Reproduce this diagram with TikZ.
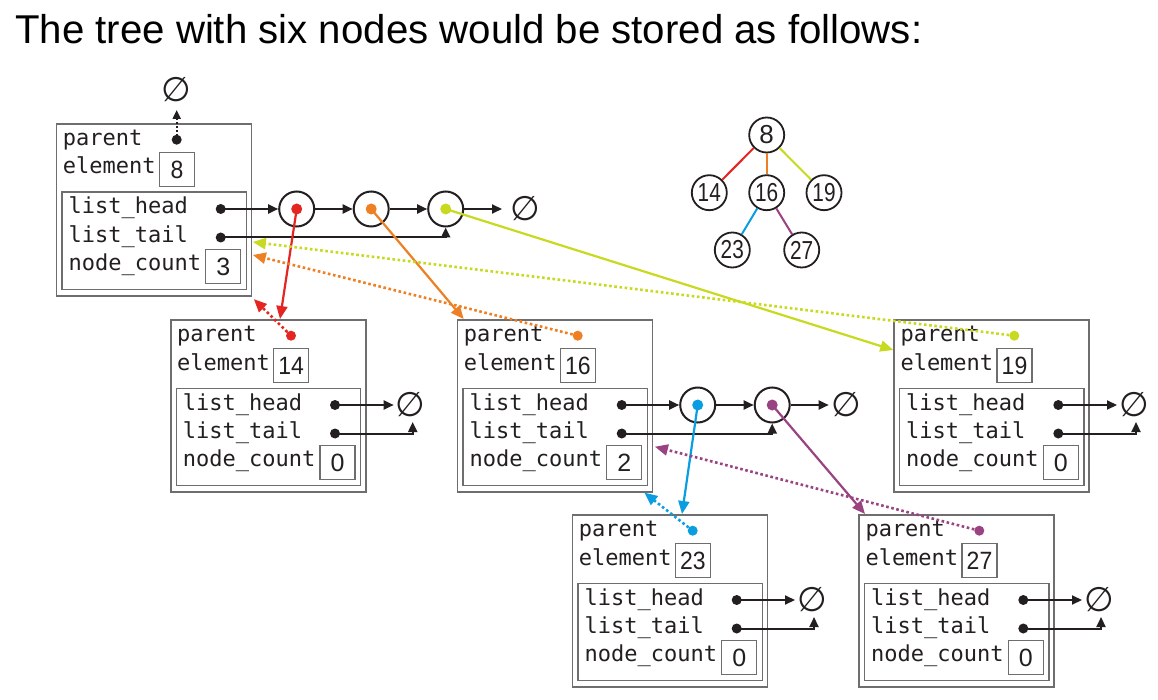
\documentclass[tikz,border=0pt]{standalone}
\usepackage{fontspec}
\usepackage{graphicx}
\setmainfont{Liberation Sans}
\newfontfamily\monof{DejaVu Sans Mono}
\newfontfamily\symf{DejaVu Sans}
\usetikzlibrary{arrows.meta,calc}
\definecolor{cred}{HTML}{E42521}
\definecolor{corange}{HTML}{EE7F22}
\definecolor{clime}{HTML}{C8DA1F}
\definecolor{cblue}{HTML}{0A9EE0}
\definecolor{cpurple}{HTML}{9A4383}
\definecolor{boxgray}{HTML}{6E6E6E}
\definecolor{ink}{HTML}{231F20}
\tikzset{
 outerbox/.style={draw=boxgray, line width=1.6pt, minimum width=195pt, minimum height=172pt, anchor=north west, inner sep=0pt},
 innerbox/.style={draw=boxgray, line width=1.4pt, minimum width=184.5pt, minimum height=97.5pt, anchor=north west, inner sep=0pt},
 numbox/.style={draw=boxgray, line width=1.4pt, minimum width=35pt, minimum height=34pt, anchor=north west, inner sep=0pt, text=ink, font=\fontsize{25}{25}\selectfont},
 lbl/.style={anchor=base west, inner sep=0pt, text=ink, font=\monof\fontsize{22}{22}\selectfont},
 nullsym/.style={inner sep=0pt, text=ink, font=\symf\fontsize{34}{34}\selectfont},
 lnode/.style={circle, draw=ink, line width=2pt, minimum size=35pt, inner sep=0pt},
 tnode/.style={circle, draw=ink, line width=1.8pt, minimum size=35pt, inner sep=0pt, text=ink, font=\fontsize{26}{26}\selectfont},
 arr/.style={draw=ink, line width=2pt, -{Triangle[length=10pt,width=9pt]}},
 carr/.style={line width=2.2pt, -{Triangle[length=13pt,width=11pt]}},
 darr/.style={line width=2.6pt, dash pattern=on 2.6pt off 2.6pt, -{Triangle[length=13pt,width=11pt]}},
 blkdot/.style={line width=2pt, dash pattern=on 2pt off 2pt, draw=ink, -{Triangle[length=9pt,width=8pt]}},
}
\newcommand\mkstruct[5]{%
 \begin{scope}[shift={(#2,#3)}]
  \node[outerbox] (#1) at (0,0) {};
  \node[innerbox] (#1-in) at (5.5,68.5) {};
  \node[lbl] (#1-lp) at (7,22.7) {parent};
  \node[lbl] (#1-le) at (7,51) {element};
  \node[numbox] (#1-el) at (103,28.7) {\scalebox{0.92}[1]{#4}};
  \node[lbl] (#1-lh) at (12.7,91) {list\_head};
  \node[lbl] (#1-lt) at (12.7,119.3) {list\_tail};
  \node[lbl] (#1-lc) at (12.7,147.7) {node\_count};
  \node[numbox] (#1-nc) at (149.3,126) {#5};
  \coordinate (#1-p) at (121,16.7);
  \coordinate (#1-h) at (165,86);
  \coordinate (#1-t) at (165,114.5);
 \end{scope}}
\newcommand\mkempty[3]{% name, null x, null y
  \node[nullsym] (#1-null) at (#2,#3) {∅};
  \draw[arr] (#1-h) -- ($(#1-null.center)+(-17,0)$);
  \draw[arr] (#1-t) -| ($(#1-null.center)+(2,17)$);
}
\begin{document}
\begin{tikzpicture}[x=1pt,y=-1pt]
\fill[white] (0,0) rectangle (1158,700);
\useasboundingbox (0,0) rectangle (1158,700);

\node[anchor=base west, inner sep=0pt, font=\fontsize{40.2}{42}\selectfont] (title) at (15,43.3) {The tree with six nodes would be stored as follows:};

% tree
\node[tnode] (t8) at (766.7,135) {8};
\node[tnode] (t14) at (709.3,192.7) {\scalebox{0.8}[1]{14}};
\node[tnode] (t16) at (766.7,192.7) {\scalebox{0.8}[1]{16}};
\node[tnode] (t19) at (824,192.7) {\scalebox{0.8}[1]{19}};
\node[tnode] (t23) at (732.3,250) {\scalebox{0.8}[1]{23}};
\node[tnode] (t27) at (801.7,250) {\scalebox{0.8}[1]{27}};
\draw[cred, line width=2pt] (t8) -- (t14);
\draw[corange, line width=2pt] (t8) -- (t16);
\draw[clime, line width=2pt] (t8) -- (t19);
\draw[cblue, line width=2pt] (t16) -- (t23);
\draw[cpurple, line width=2pt] (t16) -- (t27);

% structures
\mkstruct{root}{55.7}{123}{8}{3}
\mkstruct{b14}{170}{319}{14}{0}
\mkstruct{b16}{456.7}{319}{16}{2}
\mkstruct{b19}{893.3}{319}{19}{0}
\mkstruct{b23}{571.7}{514}{23}{0}
\mkstruct{b27}{858.3}{514}{27}{0}

% root parent -> null
\node[nullsym] (rootnull0) at (176.7,90) {∅};
\draw[blkdot] (root-p) -- ($(rootnull0.center)+(0,20)$);

% root list
\node[lnode] (rc1) at (296.7,209) {};
\node[lnode] (rc2) at (371.2,209) {};
\node[lnode] (rc3) at (445.7,209) {};
\node[nullsym] (rootnull) at (525,209) {∅};
\draw[arr] (root-h) -- (rc1);
\draw[arr] (rc1) -- (rc2);
\draw[arr] (rc2) -- (rc3);
\draw[arr] (rc3) -- ($(rootnull.center)+(-23,0)$);
\draw[arr] (root-t) -| (rc3.south);

% b16 list
\node[lnode] (mc1) at (697.7,405) {};
\node[lnode] (mc2) at (772.2,405) {};
\node[nullsym] (b16-null) at (846.7,405) {∅};
\draw[arr] (b16-h) -- (mc1);
\draw[arr] (mc1) -- (mc2);
\draw[arr] (mc2) -- ($(b16-null.center)+(-18,0)$);
\draw[arr] (b16-t) -| (mc2.south);

% empty lists
\mkempty{b14}{410.7}{405}
\mkempty{b19}{1134}{405}
\mkempty{b23}{812}{600}
\mkempty{b27}{1099}{600}

% child pointers
\draw[carr, cred] (rc1.center) -- ($(b14.north west)+(110,0)$);
\draw[carr, corange] (rc2.center) -- ($(b16.north west)+(7,0)$);
\draw[carr, clime] (rc3.center) -- ($(b19.north west)+(0,31)$);
\draw[carr, cblue] (mc1.center) -- ($(b23.north west)+(110.3,0)$);
\draw[carr, cpurple] (mc2.center) -- ($(b27.north west)+(6.7,0)$);

% parent pointers
\draw[darr, cred] (b14-p) -- ($(root.south east)+(1.5,2.5)$);
\draw[darr, corange] (b16-p) -- ($(root.north east)+(0.5,132)$);
\draw[darr, clime] (b19-p) -- ($(root.north east)+(0.5,119)$);
\draw[darr, cblue] (b23-p) -- ($(b16.south east)+(-9,0)$);
\draw[darr, cpurple] (b27-p) -- ($(b16.north east)+(1.6,127.7)$);

% dots
\foreach \n in {root-h,root-t,b14-h,b14-t,b16-h,b16-t,b19-h,b19-t,b23-h,b23-t,b27-h,b27-t,root-p}
  \fill[ink] (\n) circle (5pt);
\fill[cred] (b14-p) circle (5pt);
\fill[corange] (b16-p) circle (5pt);
\fill[clime] (b19-p) circle (5pt);
\fill[cblue] (b23-p) circle (5pt);
\fill[cpurple] (b27-p) circle (5pt);
\fill[cred] (rc1.center) circle (5.5pt);
\fill[corange] (rc2.center) circle (5.5pt);
\fill[clime] (rc3.center) circle (5.5pt);
\fill[cblue] (mc1.center) circle (5.5pt);
\fill[cpurple] (mc2.center) circle (5.5pt);
\end{tikzpicture}
\end{document}
